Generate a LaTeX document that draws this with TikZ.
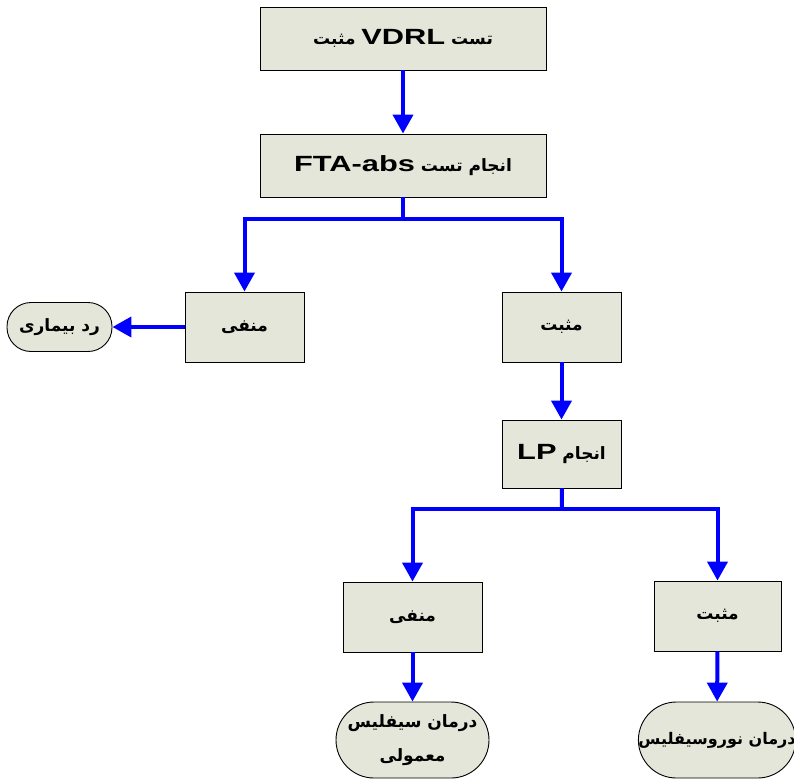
\documentclass[tikz,border=0pt]{standalone}
\usepackage{fontspec}
\setmainfont{Liberation Sans}
\newfontfamily\persianfont[Script=Arabic]{DejaVu Sans}
\newfontfamily\latinfont[FakeStretch=1.4]{Liberation Sans}
\TeXXeTstate=1
\usetikzlibrary{arrows.meta}
\definecolor{boxfill}{HTML}{E3E6D8}
\definecolor{flowblue}{HTML}{0000FF}
\tikzset{
  flow/.style={-{Triangle[length=19pt,width=20pt]}, line width=4pt, draw=flowblue},
  link/.style={line width=4pt, draw=flowblue},
  stepbox/.style={rectangle, draw=black, line width=0.9pt, fill=boxfill,
              align=center, inner sep=2pt,
              font=\persianfont\bfseries\fontsize{17}{34}\selectfont},
  termbox/.style={stepbox, rounded corners=24pt}
}
\newcommand{\fa}[1]{\beginR #1\endR}
\newcommand{\lat}[1]{{\latinfont\bfseries\fontsize{22}{34}\selectfont\beginL #1\endL}}

\begin{document}
\begin{tikzpicture}[x=1pt,y=1pt]
  \useasboundingbox (0,0) rectangle (794,-779);

  \node[stepbox, minimum width=286pt, minimum height=63pt] (vdrl) at (403,-38.5) {\fa{تست \lat{VDRL} مثبت}};
  \node[stepbox, minimum width=286pt, minimum height=63pt] (fta) at (403,-165.5) {\fa{انجام تست \lat{FTA-abs}}};

  \node[stepbox, minimum width=119pt, minimum height=70pt] (neg1) at (244.5,-327) {\fa{منفی}};
  \node[stepbox, minimum width=119pt, minimum height=70pt] (pos1) at (561.5,-327) {\fa{مثبت}};
  \node[termbox, minimum width=105pt, minimum height=49pt] (reject) at (59.5,-327) {\fa{رد بیماری}};

  \node[stepbox, minimum width=119pt, minimum height=68pt] (lp) at (561.5,-454) {\fa{انجام \lat{LP}}};

  \node[stepbox, minimum width=139pt, minimum height=70pt] (neg2) at (412.5,-617) {\fa{منفی}};
  \node[stepbox, minimum width=127pt, minimum height=70pt] (pos2) at (717.5,-616) {\fa{مثبت}};
  \node[termbox, rounded corners=38pt, minimum width=153pt, minimum height=76pt] (usual) at (412.5,-740) {\fa{درمان سیفلیس}\\\fa{معمولی}};
  \node[termbox, rounded corners=38pt, minimum width=152pt, minimum height=76pt, inner sep=0pt,
        font=\persianfont\bfseries\fontsize{16}{34}\selectfont] (neuro) at (717,-740) {\fa{درمان نوروسیفلیس}};

  \coordinate (split1) at (403,-219);
  \coordinate (split2) at (562,-509);

  \draw[flow] (vdrl) -- (fta);
  \draw[link] (fta) -- (split1);
  \draw[flow] (split1) -| (neg1);
  \draw[flow] (split1) -| (pos1);
  \draw[flow] (neg1) -- (reject);
  \draw[flow] (pos1) -- (lp);
  \draw[link] (lp) -- (split2);
  \draw[flow] (split2) -| (neg2);
  \draw[flow] (split2) -| (pos2);
  \draw[flow] (neg2) -- (usual);
  \draw[flow] (pos2) -- (neuro);
\end{tikzpicture}
\end{document}
